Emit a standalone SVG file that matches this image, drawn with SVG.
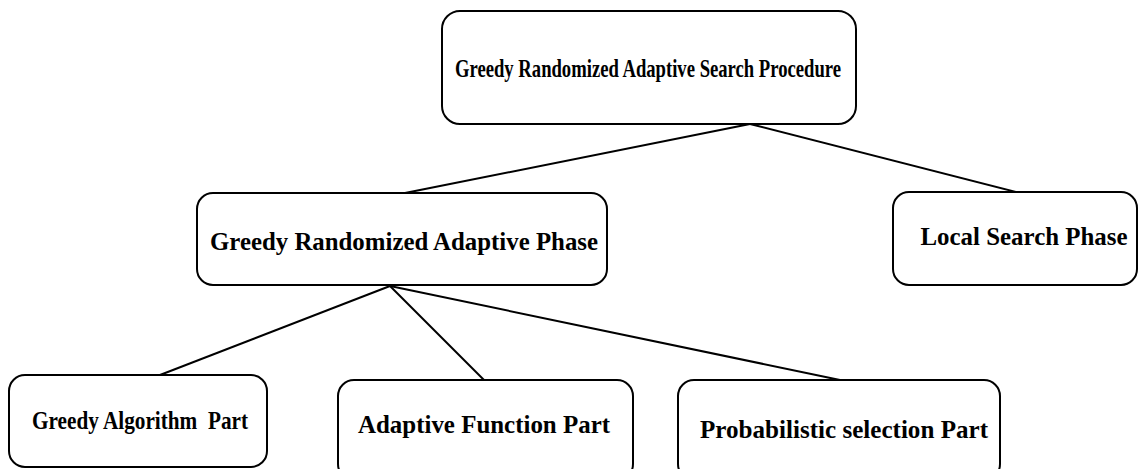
<svg xmlns="http://www.w3.org/2000/svg" width="1141" height="469" viewBox="0 0 1141 469">
  <style>
    .box { fill: #ffffff; stroke: #000000; stroke-width: 2; }
    .lbl { font-family: "Liberation Serif", "Times New Roman", serif; font-weight: bold; fill: #000000; text-anchor: middle; }
    .edge { stroke: #000000; stroke-width: 2; fill: none; }
  </style>
  <rect width="1141" height="469" fill="#ffffff"/>

  <g id="connectors">
    <line class="edge" x1="750" y1="124" x2="405" y2="193"/>
    <line class="edge" x1="750" y1="124" x2="1020" y2="193"/>
    <line class="edge" x1="390" y1="286" x2="160" y2="375"/>
    <line class="edge" x1="390" y1="286" x2="484" y2="380"/>
    <line class="edge" x1="390" y1="286" x2="840" y2="380"/>
  </g>

  <g id="grasp">
    <rect class="box" x="442" y="11" width="414" height="113" rx="18"/>
    <text class="lbl" x="648" y="77" font-size="25" textLength="386" lengthAdjust="spacingAndGlyphs">Greedy Randomized Adaptive Search Procedure</text>
  </g>

  <g id="construction-phase">
    <rect class="box" x="197" y="193" width="410" height="92" rx="16"/>
    <text class="lbl" x="404" y="250" font-size="25.5" textLength="388" lengthAdjust="spacingAndGlyphs">Greedy Randomized Adaptive Phase</text>
  </g>

  <g id="local-search-phase">
    <rect class="box" x="893" y="192" width="244" height="93" rx="16"/>
    <text class="lbl" x="1024" y="245" font-size="25.5" textLength="207" lengthAdjust="spacingAndGlyphs">Local Search Phase</text>
  </g>

  <g id="greedy-algorithm">
    <rect class="box" x="9" y="375" width="258" height="92" rx="16"/>
    <text class="lbl" x="140" y="429" font-size="25" xml:space="preserve" textLength="216" lengthAdjust="spacingAndGlyphs">Greedy Algorithm  Part</text>
  </g>

  <g id="adaptive-function">
    <rect class="box" x="338" y="380" width="295" height="100" rx="16"/>
    <text class="lbl" x="484" y="433" font-size="25.5" textLength="252" lengthAdjust="spacingAndGlyphs">Adaptive Function Part</text>
  </g>

  <g id="probabilistic-selection">
    <rect class="box" x="678" y="380" width="322" height="100" rx="16"/>
    <text class="lbl" x="844" y="438" font-size="25.5" textLength="288" lengthAdjust="spacingAndGlyphs">Probabilistic selection Part</text>
  </g>
</svg>
